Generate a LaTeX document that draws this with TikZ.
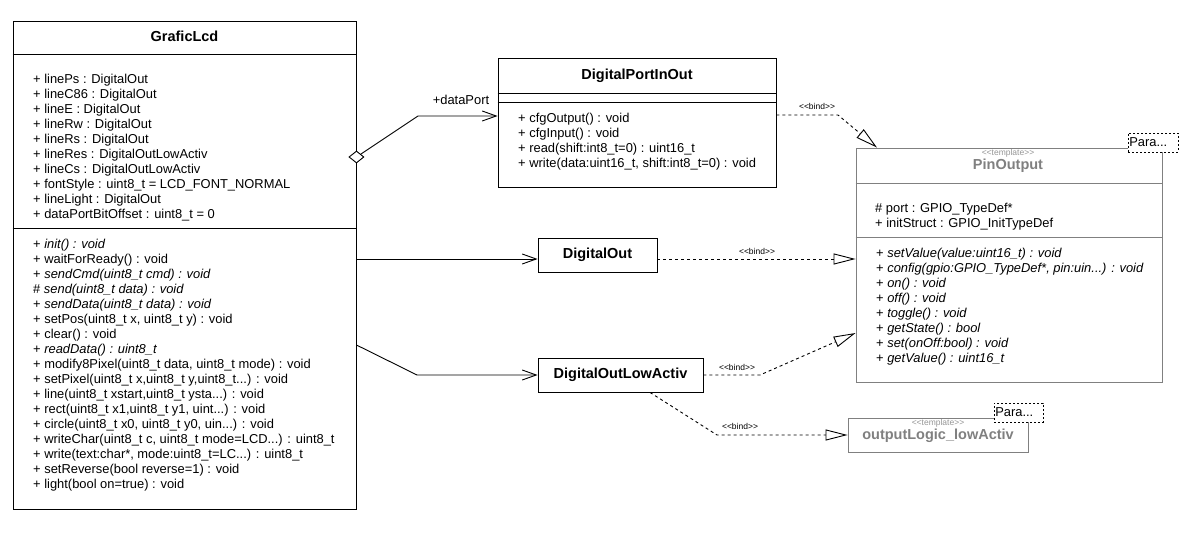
\documentclass[tikz,border=0pt]{standalone}
\usepackage{fontspec}
\setmainfont{Liberation Sans}
\usetikzlibrary{arrows.meta,shapes.geometric,calc}
\definecolor{umlgray}{RGB}{128,128,128}
\definecolor{tplgray}{RGB}{150,150,150}
\newcommand{\myellp}{...}
\begin{document}
\begin{tikzpicture}[x=1pt,y=-1pt,
  classbox/.style={draw, line width=0.9pt, inner sep=0, fill=white},
  member/.style={anchor=base west, inner sep=0, font=\fontsize{12.9}{15}\selectfont},
  ctitle/.style={anchor=base, inner sep=0, font=\fontsize{14.5}{17}\selectfont\bfseries},
  smalllbl/.style={inner sep=0, font=\fontsize{8.5}{9}\selectfont},
  tpl/.style={inner sep=0, font=\fontsize{8.5}{9}\selectfont, text=tplgray},
  divider/.style={line width=0.9pt},
  assoc/.style={line width=0.9pt, -{Straight Barb[length=14pt,width=10pt]}},
  real/.style={line width=0.9pt, dash pattern=on 3pt off 3pt, -{Triangle[open,length=22pt,width=11pt]}},
  parabox/.style={draw, dash pattern=on 2pt off 2pt, fill=white, line width=0.9pt, minimum width=50pt, minimum height=19pt, inner sep=0},
  paratext/.style={anchor=west, inner sep=0, font=\fontsize{12.9}{15}\selectfont}
]
\useasboundingbox (0,0) rectangle (1197,553);
\fill[white] (0,0) rectangle (1197,553);

% ---------- GraficLcd ----------
\node[classbox, minimum width=343pt, minimum height=488pt] (glcd) at (184.5,265) {};
\node[ctitle] (glcdt) at (184.5,41.5) {GraficLcd};
\draw[divider] (glcd.west |- 0,54) -- (glcd.east |- 0,54);
\draw[divider] (glcd.west |- 0,228) -- (glcd.east |- 0,228);
\foreach \t [count=\i] in {
  {+ linePs : DigitalOut},
  {+ lineC86 : DigitalOut},
  {+ lineE : DigitalOut},
  {+ lineRw : DigitalOut},
  {+ lineRs : DigitalOut},
  {+ lineRes : DigitalOutLowActiv},
  {+ lineCs : DigitalOutLowActiv},
  {+ fontStyle : uint8\_t = LCD\_FONT\_NORMAL},
  {+ lineLight : DigitalOut},
  {+ dataPortBitOffset : uint8\_t = 0}}
  \node[member] (ga\i) at (33,{83.5+15*(\i-1)}) {\t};
\foreach \t [count=\i] in {
  {+ \textit{init() : void}},
  {+ waitForReady() : void},
  {+ \textit{sendCmd(uint8\_t cmd) : void}},
  {\# \textit{send(uint8\_t data) : void}},
  {+ \textit{sendData(uint8\_t data) : void}},
  {+ setPos(uint8\_t x, uint8\_t y) : void},
  {+ clear() : void},
  {+ \textit{readData() : uint8\_t}},
  {+ modify8Pixel(uint8\_t data, uint8\_t mode) : void},
  {+ setPixel(uint8\_t x,uint8\_t y,uint8\_t\myellp) : void},
  {+ line(uint8\_t xstart,uint8\_t ysta\myellp) : void},
  {+ rect(uint8\_t x1,uint8\_t y1, uint\myellp) : void},
  {+ circle(uint8\_t x0, uint8\_t y0, uin\myellp) : void},
  {+ writeChar(uint8\_t c, uint8\_t mode=LCD\myellp) : uint8\_t},
  {+ write(text:char*, mode:uint8\_t=LC\myellp) : uint8\_t},
  {+ setReverse(bool reverse=1) : void},
  {+ light(bool on=true) : void}}
  \node[member] (go\i) at (33,{248.5+15*(\i-1)}) {\t};

% ---------- DigitalPortInOut ----------
\node[classbox, minimum width=278pt, minimum height=129pt] (dpio) at (637,122.5) {};
\node[ctitle] (dpiot) at (637,79.5) {DigitalPortInOut};
\draw[divider] (dpio.west |- 0,93) -- (dpio.east |- 0,93);
\draw[divider] (dpio.west |- 0,102) -- (dpio.east |- 0,102);
\foreach \t [count=\i] in {
  {+ cfgOutput() : void},
  {+ cfgInput() : void},
  {+ read(shift:int8\_t=0) : uint16\_t},
  {+ write(data:uint16\_t, shift:int8\_t=0) : void}}
  \node[member] (dpo\i) at (518,{122.5+15*(\i-1)}) {\t};

% ---------- PinOutput ----------
\node[classbox, draw=umlgray, minimum width=306pt, minimum height=234pt] (pin) at (1009,265) {};
\node[tpl] (pintpl) at (1008,153.5) {<{}<template>{}>};
\node[ctitle, text=umlgray] (pint) at (1008,169.5) {PinOutput};
\draw[divider, umlgray] (pin.west |- 0,183) -- (pin.east |- 0,183);
\draw[divider, umlgray] (pin.west |- 0,237) -- (pin.east |- 0,237);
\node[member] (pa1) at (875,212.5) {\# port : GPIO\_TypeDef*};
\node[member] (pa2) at (875,227.5) {+ initStruct : GPIO\_InitTypeDef};
\foreach \t [count=\i] in {
  {setValue(value:uint16\_t) : void},
  {config(gpio:GPIO\_TypeDef*, pin:uin\myellp) : void},
  {on() : void},
  {off() : void},
  {toggle() : void},
  {getState() : bool},
  {set(onOff:bool) : void},
  {getValue() : uint16\_t}}
  \node[member] (po\i) at (876,{257.5+15*(\i-1)}) {+ \textit{\t}};
\node[parabox] (para1) at (1153,142.5) {};
\node[paratext] (para1t) at ([xshift=1.5pt]para1.west) {Para...};

% ---------- DigitalOut ----------
\node[classbox, minimum width=119pt, minimum height=34pt, font=\fontsize{14.5}{17}\selectfont\bfseries] (dout) at (597.5,255) {DigitalOut};

% ---------- DigitalOutLowActiv ----------
\node[classbox, minimum width=165pt, minimum height=34pt, font=\fontsize{14.5}{17}\selectfont\bfseries] (dola) at (620.5,375) {DigitalOutLowActiv};

% ---------- outputLogic_lowActiv ----------
\node[classbox, draw=umlgray, minimum width=180pt, minimum height=34pt] (olla) at (938,435) {};
\node[tpl] (ollatpl) at (938,423.5) {<{}<template>{}>};
\node[ctitle, text=umlgray] (ollat) at (938,439.5) {outputLogic\_lowActiv};
\node[parabox, minimum width=49pt] (para2) at (1018.5,412.5) {};
\node[paratext] (para2t) at ([xshift=1.5pt]para2.west) {Para...};

% ---------- connectors ----------
\node[diamond, draw, fill=white, line width=0.9pt, minimum width=15pt, minimum height=12pt, inner sep=0] (dia) at ([yshift=108pt]glcd.east) {};
\coordinate (k1) at (418,116);
\draw[assoc] (dia) -- (k1) -- ([yshift=6.5pt]dpio.west);
\node[inner sep=0, font=\fontsize{12.9}{15}\selectfont] (dplbl) at (461,99.5) {+dataPort};

\draw[assoc] ([yshift=6pt]glcd.east) -- ([yshift=-4pt]dout.west);
\coordinate (k2) at (417,375);
\draw[assoc] ([yshift=-80pt]glcd.east) -- (k2) -- (dola.west);

\coordinate (k3) at (838,115);
\draw[real] ([yshift=7.5pt]dpio.east) -- (k3) -- ([xshift=-132pt]pin.north);
\node[smalllbl] (bl1) at (817,106) {<{}<bind>{}>};

\draw[real] ([yshift=-4pt]dout.east) -- ([yshift=-4pt]dout.east -| pin.west);
\node[smalllbl] (bl2) at (757,251) {<{}<bind>{}>};

\coordinate (k4) at (760,375);
\draw[real] (dola.east) -- (k4) -- ([yshift=-68pt]pin.west);
\node[smalllbl] (bl3) at (737,367) {<{}<bind>{}>};

\coordinate (k5) at (717,435);
\draw[real] ([xshift=29.5pt]dola.south) -- (k5) -- (olla.west);
\node[smalllbl] (bl4) at (740,426) {<{}<bind>{}>};
\end{tikzpicture}
\end{document}
